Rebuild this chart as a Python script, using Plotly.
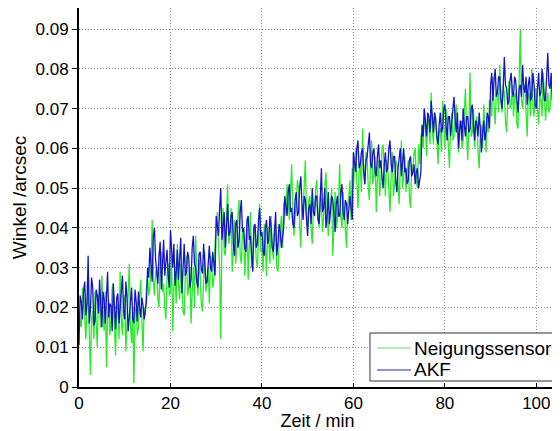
import plotly.graph_objects as go

# --- data (one sample every 0.25 min) ---
sample_start_min = 0.0
sample_step_min = 0.25

x_tick_values = [0, 20, 40, 60, 80, 100]
y_tick_values = [0, 0.01, 0.02, 0.03, 0.04, 0.05, 0.06, 0.07, 0.08, 0.09]

series_names = ["Neigungssensor", "AKF"]

neigungssensor = [
    # 0 - 14.75 min
    0.0200, 0.0160, 0.0150, 0.0250, 0.0230, 0.0180, 0.0120, 0.0210, 0.0260, 0.0140,
    0.0030, 0.0170, 0.0190, 0.0120, 0.0240, 0.0160, 0.0100, 0.0230, 0.0210, 0.0150,
    0.0280, 0.0190, 0.0140, 0.0240, 0.0050, 0.0180, 0.0220, 0.0130, 0.0170, 0.0250,
    0.0260, 0.0150, 0.0080, 0.0210, 0.0200, 0.0120, 0.0290, 0.0170, 0.0130, 0.0220,
    0.0230, 0.0090, 0.0170, 0.0240, 0.0310, 0.0160, 0.0110, 0.0200, 0.0010, 0.0190,
    0.0200, 0.0130, 0.0150, 0.0230, 0.0270, 0.0170, 0.0090, 0.0200, 0.0180, 0.0250,
    # 15 - 29.75 min
    0.0280, 0.0230, 0.0250, 0.0310, 0.0420, 0.0270, 0.0230, 0.0290, 0.0300, 0.0220,
    0.0200, 0.0320, 0.0340, 0.0240, 0.0260, 0.0200, 0.0170, 0.0280, 0.0310, 0.0230,
    0.0240, 0.0330, 0.0140, 0.0250, 0.0290, 0.0210, 0.0360, 0.0260, 0.0220, 0.0310,
    0.0270, 0.0190, 0.0180, 0.0280, 0.0330, 0.0230, 0.0250, 0.0300, 0.0160, 0.0240,
    0.0300, 0.0200, 0.0380, 0.0290, 0.0230, 0.0320, 0.0280, 0.0210, 0.0190, 0.0270,
    0.0340, 0.0240, 0.0260, 0.0300, 0.0210, 0.0330, 0.0310, 0.0250, 0.0270, 0.0360,
    # 30 - 44.75 min
    0.0400, 0.0440, 0.0360, 0.0300, 0.0120, 0.0380, 0.0450, 0.0340, 0.0330, 0.0420,
    0.0510, 0.0360, 0.0380, 0.0450, 0.0290, 0.0340, 0.0420, 0.0310, 0.0350, 0.0430,
    0.0470, 0.0330, 0.0310, 0.0390, 0.0400, 0.0280, 0.0360, 0.0420, 0.0270, 0.0350,
    0.0440, 0.0300, 0.0340, 0.0410, 0.0390, 0.0320, 0.0300, 0.0370, 0.0460, 0.0340,
    0.0350, 0.0290, 0.0410, 0.0360, 0.0280, 0.0400, 0.0370, 0.0310, 0.0430, 0.0350,
    0.0320, 0.0410, 0.0380, 0.0300, 0.0290, 0.0360, 0.0400, 0.0430, 0.0350, 0.0460,
    # 45 - 59.75 min
    0.0470, 0.0430, 0.0510, 0.0460, 0.0420, 0.0490, 0.0560, 0.0450, 0.0380, 0.0430,
    0.0460, 0.0520, 0.0500, 0.0410, 0.0350, 0.0460, 0.0440, 0.0510, 0.0570, 0.0430,
    0.0410, 0.0470, 0.0480, 0.0400, 0.0360, 0.0450, 0.0450, 0.0500, 0.0520, 0.0440,
    0.0400, 0.0480, 0.0470, 0.0390, 0.0430, 0.0510, 0.0540, 0.0450, 0.0380, 0.0420,
    0.0460, 0.0500, 0.0330, 0.0440, 0.0490, 0.0400, 0.0420, 0.0470, 0.0560, 0.0430,
    0.0400, 0.0490, 0.0450, 0.0410, 0.0350, 0.0460, 0.0480, 0.0520, 0.0420, 0.0550,
    # 60 - 74.75 min
    0.0500, 0.0560, 0.0600, 0.0520, 0.0450, 0.0540, 0.0560, 0.0490, 0.0650, 0.0550,
    0.0510, 0.0590, 0.0580, 0.0500, 0.0470, 0.0560, 0.0620, 0.0510, 0.0530, 0.0580,
    0.0440, 0.0520, 0.0570, 0.0480, 0.0520, 0.0600, 0.0610, 0.0540, 0.0480, 0.0570,
    0.0550, 0.0500, 0.0440, 0.0530, 0.0590, 0.0480, 0.0510, 0.0570, 0.0560, 0.0520,
    0.0460, 0.0550, 0.0620, 0.0500, 0.0530, 0.0580, 0.0490, 0.0540, 0.0570, 0.0480,
    0.0450, 0.0560, 0.0540, 0.0590, 0.0600, 0.0520, 0.0500, 0.0610, 0.0560, 0.0630,
    # 75 - 89.75 min
    0.0640, 0.0600, 0.0700, 0.0650, 0.0580, 0.0680, 0.0660, 0.0610, 0.0740, 0.0650,
    0.0610, 0.0690, 0.0680, 0.0620, 0.0560, 0.0640, 0.0650, 0.0590, 0.0720, 0.0660,
    0.0600, 0.0700, 0.0670, 0.0610, 0.0550, 0.0650, 0.0690, 0.0620, 0.0630, 0.0680,
    0.0710, 0.0640, 0.0590, 0.0670, 0.0660, 0.0600, 0.0620, 0.0690, 0.0750, 0.0640,
    0.0570, 0.0660, 0.0790, 0.0630, 0.0640, 0.0700, 0.0600, 0.0650, 0.0680, 0.0590,
    0.0550, 0.0640, 0.0660, 0.0600, 0.0710, 0.0650, 0.0590, 0.0680, 0.0640, 0.0720,
    # 90 - 103.5 min
    0.0720, 0.0680, 0.0780, 0.0710, 0.0660, 0.0740, 0.0750, 0.0690, 0.0810, 0.0730,
    0.0690, 0.0760, 0.0740, 0.0670, 0.0640, 0.0720, 0.0770, 0.0700, 0.0710, 0.0760,
    0.0680, 0.0730, 0.0740, 0.0660, 0.0650, 0.0780, 0.0900, 0.0720, 0.0700, 0.0750,
    0.0760, 0.0690, 0.0630, 0.0740, 0.0730, 0.0680, 0.0800, 0.0710, 0.0680, 0.0750,
    0.0750, 0.0700, 0.0660, 0.0730, 0.0720, 0.0680, 0.0790, 0.0740, 0.0670, 0.0710,
    0.0740, 0.0690, 0.0700, 0.0750, 0.0760,
]

akf = [
    # 0 - 14.75 min
    0.0105, 0.0230, 0.0215, 0.0170, 0.0240, 0.0265, 0.0180, 0.0210, 0.0330, 0.0160,
    0.0195, 0.0275, 0.0250, 0.0155, 0.0165, 0.0245, 0.0230, 0.0185, 0.0270, 0.0200,
    0.0150, 0.0240, 0.0220, 0.0160, 0.0255, 0.0290, 0.0175, 0.0210, 0.0205, 0.0140,
    0.0260, 0.0190, 0.0145, 0.0225, 0.0235, 0.0160, 0.0200, 0.0250, 0.0280, 0.0190,
    0.0170, 0.0265, 0.0225, 0.0140, 0.0185, 0.0230, 0.0250, 0.0170, 0.0160, 0.0245,
    0.0215, 0.0165, 0.0240, 0.0200, 0.0175, 0.0225, 0.0205, 0.0170, 0.0190, 0.0215,
    # 15 - 29.75 min
    0.0300, 0.0275, 0.0350, 0.0310, 0.0265, 0.0380, 0.0400, 0.0320, 0.0290, 0.0260,
    0.0330, 0.0365, 0.0245, 0.0300, 0.0370, 0.0280, 0.0310, 0.0345, 0.0280, 0.0250,
    0.0395, 0.0330, 0.0300, 0.0360, 0.0255, 0.0290, 0.0345, 0.0270, 0.0315, 0.0375,
    0.0235, 0.0305, 0.0360, 0.0280, 0.0290, 0.0340, 0.0325, 0.0250, 0.0270, 0.0350,
    0.0380, 0.0310, 0.0300, 0.0265, 0.0250, 0.0335, 0.0340, 0.0295, 0.0285, 0.0360,
    0.0320, 0.0260, 0.0265, 0.0330, 0.0355, 0.0300, 0.0290, 0.0340, 0.0310, 0.0280,
    # 30 - 44.75 min
    0.0430, 0.0400, 0.0380, 0.0450, 0.0500, 0.0370, 0.0410, 0.0440, 0.0350, 0.0400,
    0.0460, 0.0380, 0.0390, 0.0430, 0.0440, 0.0360, 0.0330, 0.0410, 0.0420, 0.0350,
    0.0370, 0.0440, 0.0470, 0.0390, 0.0400, 0.0350, 0.0340, 0.0420, 0.0430, 0.0370,
    0.0380, 0.0330, 0.0290, 0.0400, 0.0410, 0.0350, 0.0360, 0.0420, 0.0450, 0.0380,
    0.0390, 0.0340, 0.0330, 0.0400, 0.0420, 0.0360, 0.0370, 0.0430, 0.0400, 0.0350,
    0.0340, 0.0390, 0.0440, 0.0330, 0.0360, 0.0410, 0.0390, 0.0350, 0.0370, 0.0400,
    # 45 - 59.75 min
    0.0480, 0.0450, 0.0430, 0.0490, 0.0510, 0.0440, 0.0450, 0.0410, 0.0400, 0.0470,
    0.0490, 0.0430, 0.0440, 0.0500, 0.0530, 0.0460, 0.0420, 0.0480, 0.0470, 0.0420,
    0.0380, 0.0450, 0.0460, 0.0410, 0.0500, 0.0440, 0.0430, 0.0480, 0.0480, 0.0420,
    0.0410, 0.0470, 0.0550, 0.0440, 0.0450, 0.0500, 0.0400, 0.0430, 0.0490, 0.0410,
    0.0440, 0.0480, 0.0470, 0.0420, 0.0390, 0.0460, 0.0480, 0.0430, 0.0430, 0.0490,
    0.0510, 0.0440, 0.0420, 0.0470, 0.0460, 0.0410, 0.0440, 0.0480, 0.0450, 0.0420,
    # 60 - 74.75 min
    0.0590, 0.0560, 0.0540, 0.0600, 0.0620, 0.0550, 0.0560, 0.0590, 0.0600, 0.0540,
    0.0510, 0.0570, 0.0580, 0.0610, 0.0640, 0.0560, 0.0550, 0.0590, 0.0600, 0.0540,
    0.0530, 0.0580, 0.0610, 0.0550, 0.0570, 0.0530, 0.0500, 0.0560, 0.0590, 0.0540,
    0.0550, 0.0600, 0.0620, 0.0560, 0.0540, 0.0580, 0.0580, 0.0520, 0.0490, 0.0550,
    0.0570, 0.0600, 0.0530, 0.0570, 0.0600, 0.0540, 0.0550, 0.0510, 0.0520, 0.0570,
    0.0580, 0.0530, 0.0540, 0.0560, 0.0510, 0.0540, 0.0550, 0.0500, 0.0520, 0.0540,
    # 75 - 89.75 min
    0.0660, 0.0630, 0.0700, 0.0670, 0.0630, 0.0690, 0.0680, 0.0640, 0.0720, 0.0680,
    0.0640, 0.0690, 0.0670, 0.0630, 0.0610, 0.0660, 0.0690, 0.0640, 0.0650, 0.0700,
    0.0710, 0.0660, 0.0620, 0.0680, 0.0680, 0.0630, 0.0660, 0.0700, 0.0730, 0.0670,
    0.0640, 0.0690, 0.0600, 0.0650, 0.0670, 0.0620, 0.0700, 0.0660, 0.0630, 0.0680,
    0.0680, 0.0640, 0.0650, 0.0700, 0.0710, 0.0660, 0.0620, 0.0670, 0.0660, 0.0630,
    0.0690, 0.0650, 0.0590, 0.0640, 0.0670, 0.0620, 0.0640, 0.0690, 0.0680, 0.0650,
    # 90 - 103.5 min
    0.0760, 0.0790, 0.0720, 0.0770, 0.0800, 0.0730, 0.0740, 0.0780, 0.0780, 0.0720,
    0.0700, 0.0750, 0.0830, 0.0760, 0.0750, 0.0710, 0.0720, 0.0770, 0.0790, 0.0740,
    0.0730, 0.0780, 0.0770, 0.0720, 0.0690, 0.0750, 0.0760, 0.0730, 0.0810, 0.0750,
    0.0740, 0.0780, 0.0710, 0.0760, 0.0780, 0.0720, 0.0730, 0.0790, 0.0760, 0.0710,
    0.0700, 0.0750, 0.0790, 0.0730, 0.0740, 0.0800, 0.0770, 0.0720, 0.0720, 0.0780,
    0.0840, 0.0760, 0.0750, 0.0790, 0.0720,
]

series_values = [neigungssensor, akf]
series_colors = ["#2bea2b", "#1515c8"]
legend_line_colors = ["#66dd66", "#2a2a99"]

FONT = "Liberation Sans, Arial, sans-serif"

fig = go.Figure()
for name, vals, col in zip(series_names, series_values, series_colors):
    fig.add_trace(go.Scatter(
        y=vals, x0=sample_start_min, dx=sample_step_min,
        mode="lines", name=name, showlegend=False,
        line=dict(color=col, width=1.3),
    ))

# Compact boxed legend in the lower right corner (paper coordinates)
legend_box = dict(x0=0.610, x1=0.9958, y0=0.0158, y1=0.1425)
legend_rows_y = [0.1029, 0.0449]
legend_line_x = (0.6247, 0.6960)
legend_text_x = 0.6985

fig.add_shape(type="rect", xref="paper", yref="paper", layer="above",
              x0=legend_box["x0"], x1=legend_box["x1"],
              y0=legend_box["y0"], y1=legend_box["y1"],
              line=dict(color="#333333", width=1), fillcolor="white")
for name, col, ry in zip(series_names, legend_line_colors, legend_rows_y):
    fig.add_shape(type="line", xref="paper", yref="paper", layer="above",
                  x0=legend_line_x[0], x1=legend_line_x[1], y0=ry, y1=ry,
                  line=dict(color=col, width=1.2))
    fig.add_annotation(xref="paper", yref="paper", x=legend_text_x, y=ry,
                       xanchor="left", yanchor="middle", showarrow=False,
                       text=name, font=dict(family=FONT, size=19, color="black"))

# The page body has an 8px default margin, so the figure is 8px smaller
# and its margins are reduced accordingly.
fig.update_layout(
    width=552, height=423,
    margin=dict(l=71, r=4, t=0, b=44, autoexpand=False),
    paper_bgcolor="white", plot_bgcolor="white",
    font=dict(family=FONT, color="black", size=17),
    showlegend=False,
)

grid_style = dict(showgrid=True, gridcolor="#8c8c8c", griddash="1px,2px", gridwidth=1)

fig.update_xaxes(
    range=[0, 104.3], tickvals=x_tick_values,
    showline=True, linecolor="black", linewidth=2, mirror=False,
    ticks="inside", ticklen=4, tickcolor="black", tickwidth=1,
    zeroline=False, automargin=False,
    tickfont=dict(family=FONT, size=17, color="black"),
    title=dict(text="Zeit / min", font=dict(family=FONT, size=18, color="black"), standoff=6),
    **grid_style,
)
fig.update_yaxes(
    range=[0, 0.0953], tickvals=y_tick_values,
    showline=True, linecolor="black", linewidth=2, mirror=False,
    ticks="outside", ticklen=5, tickcolor="black", tickwidth=1,
    zeroline=False, automargin=False,
    tickfont=dict(family=FONT, size=17, color="black"),
    title=dict(text="Winkel /arcsec", font=dict(family=FONT, size=19, color="black"), standoff=4),
    **grid_style,
)

fig.write_html("out.html")
